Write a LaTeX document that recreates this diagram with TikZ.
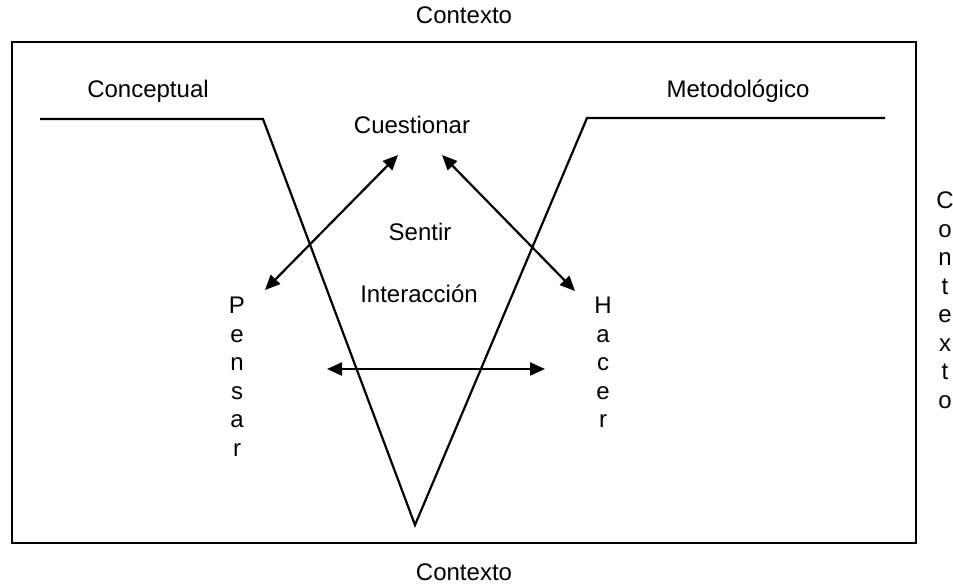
\documentclass[tikz,border=0pt]{standalone}
\usepackage{fontspec}
\setmainfont{Liberation Sans}
\usetikzlibrary{arrows.meta}
\tikzset{
  texto/.style={font=\fontsize{24}{28.5}\selectfont,inner sep=0pt,anchor=base},
  vertical/.style={font=\fontsize{24}{28.5}\selectfont,inner sep=0pt,anchor=north,align=center},
  flecha/.style={line width=2.2pt,{Triangle[length=15pt,width=13pt]}-{Triangle[length=15pt,width=13pt]}}
}
\begin{document}
\begin{tikzpicture}[x=1pt,y=-1pt,line width=2.2pt]
\useasboundingbox (0,0) rectangle (953,585);
\draw (12,42) rectangle (916,543);
% la V y los dos brazos
\draw (40,119)--(263,119)--(415,525)--(587,118)--(885,118);
\node[texto] (ctxArriba) at (464,24) {Contexto};
\node[texto] (ctxAbajo) at (464,580) {Contexto};
\node[vertical] (ctxDerecha) at (945,191) {C\\o\\n\\t\\e\\x\\t\\o};
\node[texto] (conceptual) at (148,98) {Conceptual};
\node[texto] (metodologico) at (738,98) {Metodológico};
\node[texto] (cuestionar) at (412,134) {Cuestionar};
\node[texto] (sentir) at (420,241) {Sentir};
\node[texto] (interaccion) at (419,302) {Interacción};
\node[vertical] (pensar) at (237,296) {P\\e\\n\\s\\a\\r};
\node[vertical] (hacer) at (603,296) {H\\a\\c\\e\\r};
% puntas de las flechas
\coordinate (cuestIzq) at (398,155);
\coordinate (cuestDer) at (442,155);
\coordinate (pensarPunta) at (265,290);
\coordinate (hacerPunta) at (575,291);
\coordinate (medioIzq) at (327,369);
\coordinate (medioDer) at (545,369);
\draw[flecha] (cuestIzq)--(pensarPunta);
\draw[flecha] (cuestDer)--(hacerPunta);
\draw[flecha] (medioIzq)--(medioDer);
\end{tikzpicture}
\end{document}
